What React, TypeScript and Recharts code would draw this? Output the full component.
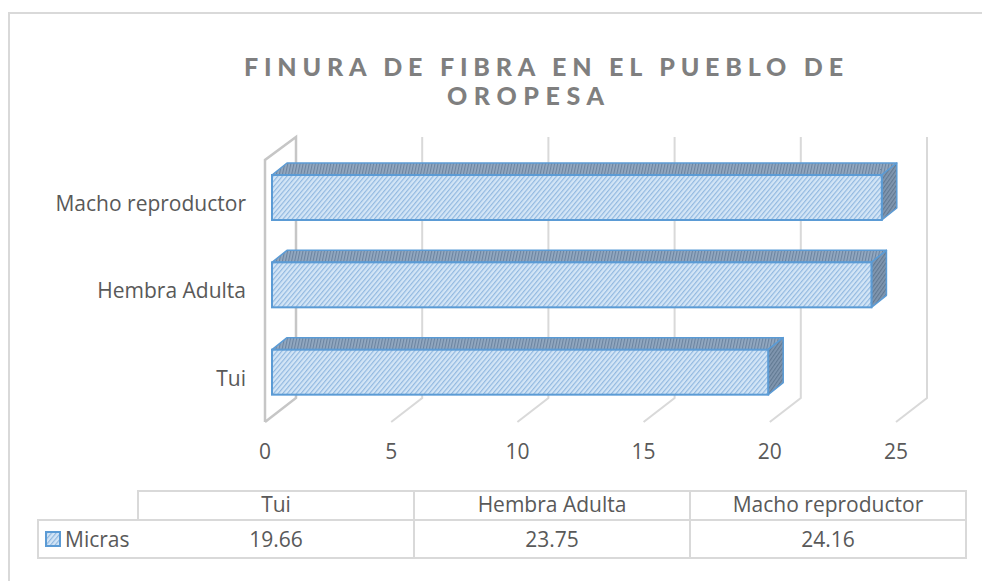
import React from "react";
import { BarChart, Bar, XAxis, YAxis, CartesianGrid } from "recharts";

const categories = ["Tui", "Hembra Adulta", "Macho reproductor"];
const micras = [19.66, 23.75, 24.16];
const seriesName = "Micras";
const xTicks = [0, 5, 10, 15, 20, 25];
const titleLines = ["FINURA DE FIBRA EN EL PUEBLO DE", "OROPESA"];

const data = categories.map((name, i) => ({ name, value: micras[i] }));

const FONT = "'Open Sans', 'Noto Sans', sans-serif";
const FS = 21;
const TEXT = "#595959";
const GRID = "#d9d9d9";
const WALL = "#c6c6c6";
const BLUE = "#5b9bd5";

// oblique offset of the back wall and of each bar's depth
const WALL_DX = 31;
const WALL_DY = -24;
const BAR_DX = 15;
const BAR_DY = -12;

const Patterns = () => (
  <svg width={0} height={0} style={{ position: "absolute" }}>
    <defs>
      <pattern id="hatchFront" patternUnits="userSpaceOnUse" width="3.5" height="3.5" patternTransform="rotate(40)">
        <rect width="3.5" height="3.5" fill="#d3e5f6" />
        <line x1="0.6" y1="0" x2="0.6" y2="3.5" stroke="#8db6df" strokeWidth="1.1" />
      </pattern>
      <pattern id="hatchTop" patternUnits="userSpaceOnUse" width="3" height="3" patternTransform="rotate(12)">
        <rect width="3" height="3" fill="#93a9c1" />
        <line x1="0.6" y1="0" x2="0.6" y2="3" stroke="#6a829e" strokeWidth="1.1" />
      </pattern>
      <pattern id="hatchSide" patternUnits="userSpaceOnUse" width="3" height="3" patternTransform="rotate(35)">
        <rect width="3" height="3" fill="#8197b0" />
        <line x1="0.6" y1="0" x2="0.6" y2="3" stroke="#5f7791" strokeWidth="1.1" />
      </pattern>
    </defs>
  </svg>
);

const Bar3D = (props: any) => {
  const { x, y, width, height } = props;
  const fx = x + 7;
  const fy = y - 6;
  const top = `${fx},${fy} ${fx + BAR_DX},${fy + BAR_DY} ${fx + width + BAR_DX},${fy + BAR_DY} ${fx + width},${fy}`;
  const side = `${fx + width},${fy} ${fx + width + BAR_DX},${fy + BAR_DY} ${fx + width + BAR_DX},${fy + height + BAR_DY} ${fx + width},${fy + height}`;
  return (
    <g>
      <polygon points={top} fill="url(#hatchTop)" stroke={BLUE} strokeWidth={1.5} strokeLinejoin="round" />
      <polygon points={side} fill="url(#hatchSide)" stroke={BLUE} strokeWidth={1.5} strokeLinejoin="round" />
      <rect x={fx} y={fy} width={width} height={height} fill="url(#hatchFront)" stroke={BLUE} strokeWidth={2} />
    </g>
  );
};

const gridLine = (p: any) => {
  const { x1, y1, y2, index } = p;
  const bx = x1 + WALL_DX;
  const by = y2 + WALL_DY;
  const ty = y1 + WALL_DY + 1;
  if (index === 0) {
    return (
      <g key={`g-${index}`} fill="none" stroke={WALL} strokeWidth={2.5}>
        <polyline points={`${x1},${y2} ${x1},${y1} ${bx},${ty} ${bx},${by} ${x1},${y2}`} />
      </g>
    );
  }
  return (
    <g key={`g-${index}`} fill="none" stroke={GRID} strokeWidth={2}>
      <polyline points={`${x1},${y2} ${bx},${by} ${bx},${ty}`} />
    </g>
  );
};

const Title = () => (
  <svg width={982} height={120} style={{ position: "absolute", left: 0, top: 0 }}>
    <g fontFamily="Lato, sans-serif" fontWeight={900} fontSize={25} fill="#7f7f7f">
      <text x={244} y={76} textLength={599} lengthAdjust="spacing">{titleLines[0]}</text>
      <text x={447} y={105} textLength={157} lengthAdjust="spacing">{titleLines[1]}</text>
    </g>
  </svg>
);

const DataTable = () => {
  const left = 138;
  const colW = 276;
  const top = 491;
  const mid = 520;
  const bottom = 558;
  const right = left + colW * categories.length;
  return (
    <svg width={982} height={581} style={{ position: "absolute", left: 0, top: 0, display: "block" }}>
      {/* outer chart frame, cut by the page edges */}
      <polyline points="9,581 9,13 990,13" fill="none" stroke={GRID} strokeWidth={2} />
      <g stroke={GRID} strokeWidth={2} fill="none">
        <polyline points={`${left},${mid} ${left},${top} ${right},${top} ${right},${bottom} 38,${bottom} 38,${mid} ${right},${mid}`} />
        {categories.map((_, i) => (
          <line key={i} x1={left + colW * (i + 1)} y1={top} x2={left + colW * (i + 1)} y2={bottom} />
        ))}
      </g>
      <rect x={46} y={532} width={14} height={14} fill="url(#hatchFront)" stroke={BLUE} strokeWidth={2} />
      <text x={65} y={547} fontFamily={FONT} fontSize={FS} fill={TEXT}>{seriesName}</text>
      {categories.map((c, i) => (
        <g key={c} fontFamily={FONT} fontSize={FS} fill={TEXT} textAnchor="middle">
          <text x={left + colW * i + colW / 2} y={512}>{c}</text>
          <text x={left + colW * i + colW / 2} y={547}>{micras[i].toFixed(2)}</text>
        </g>
      ))}
    </svg>
  );
};

export default function App() {
  return (
    <div style={{ position: "fixed", inset: 0, overflow: "hidden", background: "#fff" }}>
      <Patterns />
      <Title />
      <div style={{ position: "absolute", left: 0, top: 0 }}>
        <BarChart width={982} height={581} data={data} layout="vertical" margin={{ top: 160, right: 86, bottom: 129, left: 0 }}>
          <CartesianGrid horizontal={false} vertical={gridLine} />
          <XAxis
            type="number"
            domain={[0, 25]}
            ticks={xTicks}
            height={30}
            axisLine={false}
            tickLine={false}
            tickMargin={16}
            tick={{ fontFamily: FONT, fontSize: FS, fill: TEXT }}
          />
          <YAxis
            type="category"
            dataKey="name"
            reversed
            width={265}
            axisLine={false}
            tickLine={false}
            tickMargin={13}
            tick={{ fontFamily: FONT, fontSize: FS, fill: TEXT }}
          />
          <Bar dataKey="value" name={seriesName} barSize={45} shape={Bar3D} isAnimationActive={false} />
        </BarChart>
      </div>
      <DataTable />
    </div>
  );
}
